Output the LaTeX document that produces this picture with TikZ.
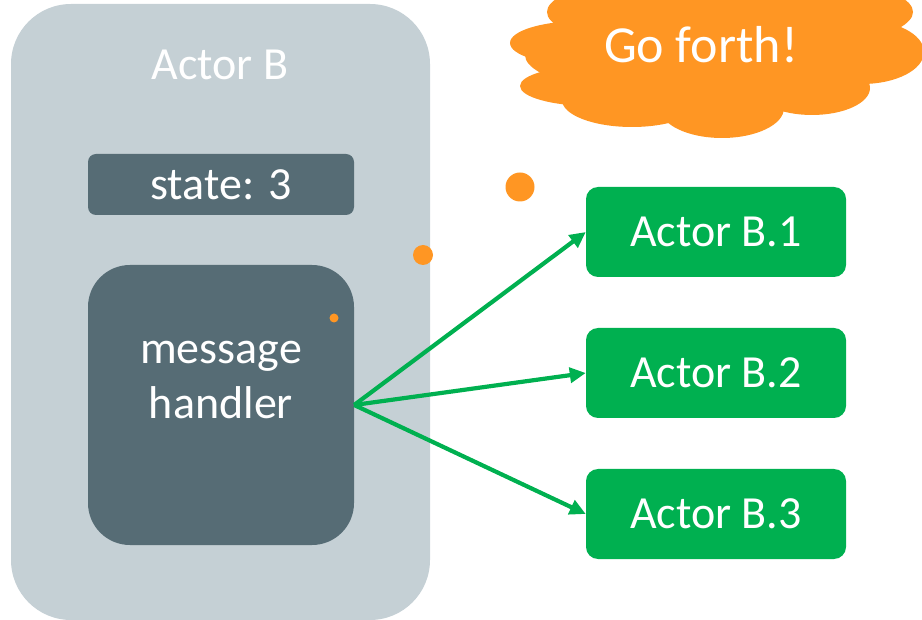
\documentclass[tikz,border=0pt]{standalone}
\usepackage{fontspec}
\setmainfont{Carlito}
\usetikzlibrary{arrows.meta}
\definecolor{shell}{HTML}{C5D0D5}
\definecolor{slate}{HTML}{566C75}
\definecolor{leaf}{HTML}{00B050}
\definecolor{flame}{HTML}{FF9623}
\tikzset{
  big/.style={font=\fontsize{46}{55}\selectfont, text=white},
  darkbox/.style={fill=slate, draw=none, minimum width=266pt, inner sep=0pt},
  childbox/.style={fill=leaf, draw=none, rounded corners=12pt, minimum width=260pt,
    minimum height=90pt, inner sep=0pt, big},
  arr/.style={draw=leaf, line width=4.2pt, -{Triangle[length=16pt,width=15pt]}},
  dot/.style={fill=flame, draw=none}
}
\begin{document}
\begin{tikzpicture}[x=1pt,y=-1pt]
\useasboundingbox (0,0) rectangle (922,620);

% enclosing actor
\node[fill=shell, draw=none, rounded corners=60pt, minimum width=419pt,
      minimum height=616pt, inner sep=0pt] (actor) at (220.5,312) {};
\node[big] (title) at (220,65) {Actor B};

% state and handler
\node[darkbox, rounded corners=8pt, minimum height=61pt, big] (state) at (221,184.5) {state: 3};
\node[darkbox, rounded corners=42pt, minimum height=280pt] (handler) at (221,405) {};
\node[big, align=center] (htext) at (221,380) {message\\handler};

% children
\node[childbox] (b1) at (716,232) {Actor B.1};
\node[childbox] (b2) at (716,373) {Actor B.2};
\node[childbox] (b3) at (716,514) {Actor B.3};

\draw[arr] (handler.east) -- (b1.west);
\draw[arr] (handler.east) -- (b2.west);
\draw[arr] (handler.east) -- (b3.west);

% travelling dots
\fill[dot] (334,318) circle (4.5pt);
\fill[dot] (423,255) circle (10pt);
\fill[dot] (520,187) circle (14.5pt);

% speech cloud
\begin{scope}
  \clip (0,0) rectangle (922,620);
  \fill[flame] (730,12) ellipse (183pt and 42pt);
  \fill[flame] (715,55) ellipse (190pt and 45pt);
  \fill[flame] (582,43) ellipse (72pt and 22pt);
  \fill[flame] (592,86) ellipse (72pt and 20pt);
  \fill[flame] (632,100) ellipse (70pt and 27pt);
  \fill[flame] (722,108) ellipse (62pt and 30pt);
  \fill[flame] (812,88) ellipse (58pt and 27pt);
  \fill[flame] (862,52) ellipse (62pt and 32pt);
\end{scope}
\node[font=\fontsize{52}{60}\selectfont, text=white] (shout) at (701,45) {Go forth!};
\end{tikzpicture}
\end{document}
